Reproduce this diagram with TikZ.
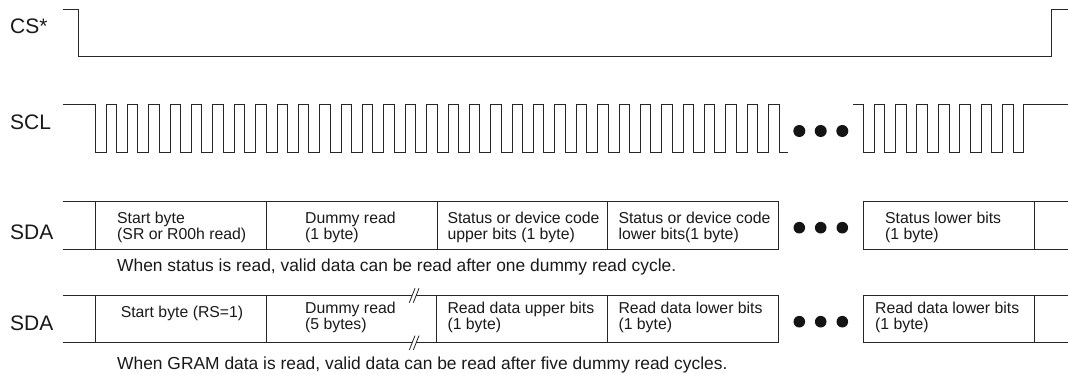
\documentclass[tikz,border=0pt]{standalone}
\usepackage{fontspec}
\setmainfont{Liberation Sans}
\newcommand{\twoln}[2]{\vtop{\baselineskip=16.5pt\hbox{#1}\hbox{#2}}}
\begin{document}
\begin{tikzpicture}[x=1pt,y=-1pt,
  sig/.style={line width=1pt, draw=black!85, line join=miter},
  brk/.style={line width=0.8pt, draw=black!85},
  lbl/.style={font=\fontsize{21}{25}\selectfont, inner sep=0, anchor=base west, text=black!90},
  txt/.style={font=\fontsize{15.8}{16.5}\selectfont, inner sep=0, anchor=base west, text=black!90},
  captxt/.style={font=\fontsize{17.4}{20}\selectfont, inner sep=0, anchor=base west, text=black!90},
  dotc/.style={fill=black!92}]
\useasboundingbox (0,0) rectangle (1068,374);

% labels
\node[lbl] (lcs) at (10,34) {CS*};
\node[lbl] (lscl) at (10,129.3) {SCL};
\node[lbl] (lsda1) at (10,240) {SDA};
\node[lbl] (lsda2) at (10,330) {SDA};

% CS*
\draw[sig] (63,9.3) -- (78,9.3) -- (78,57) -- (1051.7,57) -- (1051.7,9.3) -- (1068,9.3);

% SCL
\draw[sig] (63,105) -- (95,105)
  \foreach \k in {1,...,32} { -- ++(0,48) -- ++(11,0) -- ++(0,-48) -- ++(10.375,0) }
  -- ++(0,48) -- (788.3,153);
\draw[sig] (853.3,105) -- (863.3,105)
  \foreach \k in {1,...,7} { -- ++(0,48) -- ++(10.7,0) -- ++(0,-48) -- ++(10.73,0) }
  -- ++(0,48) -- ++(10,0) -- ++(0,-48) -- (1068,105);
\foreach \x in {799.3,820.7,842.3} \fill[dotc] (\x,131) circle (6);

% SDA row 1
\draw[sig] (63,201.7) -- (778.3,201.7) -- (778.3,249.3) -- (63,249.3);
\foreach \x in {95.7,266,437.3,607.3} \draw[sig] (\x,201.7) -- (\x,249.3);
\draw[sig] (1068,201.7) -- (863.3,201.7) -- (863.3,249.3) -- (1068,249.3);
\draw[sig] (1034.3,201.7) -- (1034.3,249.3);
\foreach \x in {799.3,820.7,842.3} \fill[dotc] (\x,227.7) circle (5.8);

\node[txt] (a1) at (117,223.3) {\twoln{Start byte}{(SR or R00h read)}};
\node[txt] (a2) at (305,223.3) {\twoln{Dummy read}{(1 byte)}};
\node[txt] (a3) at (447.3,223.3) {\twoln{Status or device code}{upper bits (1 byte)}};
\node[txt] (a4) at (618.3,223.3) {\twoln{Status or device code}{lower bits(1 byte)}};
\node[txt] (a5) at (885,223.3) {\twoln{Status lower bits}{(1 byte)}};
\node[captxt] (c1) at (117,271.7) {When status is read, valid data can be read after one dummy read cycle.};

% SDA row 2
\draw[sig] (63,295) -- (412.2,295) (416.2,295) -- (778.3,295) -- (778.3,342.3) -- (416.2,342.3) (412.2,342.3) -- (63,342.3);
\draw[brk] (409.3,302.7) -- (415,288.3) (413.3,302.7) -- (419,288.3);
\draw[brk] (409.3,350) -- (415,335.6) (413.3,350) -- (419,335.6);
\foreach \x in {95.7,266,436.5,607.3} \draw[sig] (\x,295) -- (\x,342.3);
\draw[sig] (1068,295) -- (863.3,295) -- (863.3,342.3) -- (1068,342.3);
\draw[sig] (1034.3,295) -- (1034.3,342.3);
\foreach \x in {799.3,820.7,842.3} \fill[dotc] (\x,321.7) circle (5.8);

\node[txt, anchor=base] (b1) at (182,317.7) {Start byte (RS=1)};
\node[txt] (b2) at (305,313.3) {\twoln{Dummy read}{(5 bytes)}};
\node[txt] (b3) at (447.3,313.3) {\twoln{Read data upper bits}{(1 byte)}};
\node[txt] (b4) at (618.3,313.3) {\twoln{Read data lower bits}{(1 byte)}};
\node[txt] (b5) at (875,313.3) {\twoln{Read data lower bits}{(1 byte)}};
\node[captxt] (c2) at (117,369.3) {When GRAM data is read, valid data can be read after five dummy read cycles.};
\end{tikzpicture}
\end{document}
